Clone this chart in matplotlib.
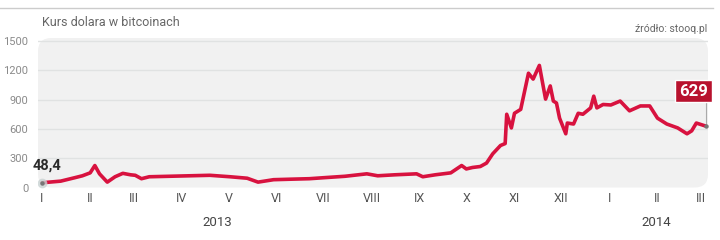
import matplotlib
matplotlib.use("Agg")
import matplotlib.pyplot as plt
from matplotlib.patches import FancyBboxPatch
import numpy as np

# Data: days since 1 Jan 2013, USD price of bitcoin
days = [0, 12, 21, 26, 31, 34, 37, 42, 47, 52, 57, 60, 64, 69, 82, 95, 108, 121,
        132, 139, 149, 160, 172, 181, 195, 209, 216, 227, 241, 245, 253, 263, 270,
        273, 277, 282, 286, 290, 295, 298, 299, 302, 304, 308, 313, 316, 320, 324,
        327, 329, 331, 333, 337, 338, 342, 345, 348, 353, 355, 357, 361, 366, 372,
        378, 385, 391, 396, 402, 409, 415, 418, 421, 427]
values = [48.4, 65, 100, 120, 150, 225, 140, 55, 110, 145, 130, 125, 90, 110, 115,
          120, 125, 110, 95, 55, 80, 85, 90, 100, 115, 140, 120, 130, 140, 110, 130,
          150, 225, 190, 205, 215, 250, 345, 430, 450, 750, 610, 760, 800, 1170,
          1110, 1250, 905, 1040, 885, 865, 710, 550, 660, 650, 760, 750, 815, 935,
          815, 850, 845, 885, 785, 835, 835, 710, 650, 610, 550, 580, 660, 629]

month_days = [0, 31, 59, 90, 120, 151, 181, 212, 243, 273, 304, 334, 365, 396, 424]
month_labels = ["I", "II", "III", "IV", "V", "VI", "VII", "VIII", "IX", "X", "XI",
                "XII", "I", "II", "III"]
y_ticks = [0, 300, 600, 900, 1200, 1500]
year_labels = [("2013", 113), ("2014", 395)]

W, H = 720, 240
fig = plt.figure(figsize=(7.2, 2.4), dpi=100)
fig.patch.set_facecolor("white")

px_per_day = (701 - 42) / 424.0
ax_left_px, ax_right_px = 38, 708
ax_top_px, ax_bot_px = 38, 187.5
ax = fig.add_axes([ax_left_px / W, 1 - ax_bot_px / H,
                   (ax_right_px - ax_left_px) / W, (ax_bot_px - ax_top_px) / H])
x0 = -(42 - ax_left_px) / px_per_day
x1 = (ax_right_px - 42) / px_per_day
ax.set_xlim(x0, x1)
ymax = 1500 * (ax_bot_px - ax_top_px) / (187.5 - 41)
ax.set_ylim(0, ymax)
ax.set_facecolor("none")
for s in ax.spines.values():
    s.set_visible(False)

panel = FancyBboxPatch((0, 0), 1, 1, boxstyle="round,pad=0,rounding_size=0.02",
                       transform=ax.transAxes, facecolor="#f1f1f1", edgecolor="none",
                       zorder=0, mutation_aspect=670 / 150)
ax.add_patch(panel)

for yv in y_ticks[1:]:
    ax.axhline(yv, color="#e0e2e2", lw=1.0, zorder=1)

ax.set_yticks(y_ticks)
ax.set_yticklabels([str(v) for v in y_ticks], fontsize=8, color="#8a8a8a",
                   family="Roboto")
ax.set_xticks(month_days)
ax.set_xticklabels(month_labels, fontsize=9, color="#555555", family="Roboto")
ax.tick_params(axis="y", length=0, pad=7)
ax.tick_params(axis="x", length=0, pad=3)

ax.plot(days, values, color="#d8123f", lw=2.6, solid_joinstyle="round",
        solid_capstyle="round", zorder=3, clip_on=False)

# start marker
ax.plot([days[0]], [values[0]], "o", ms=7, color="#c9d2d2", alpha=0.8, zorder=4,
        mec="none")
ax.plot([days[0]], [values[0]], "o", ms=2.2, color="#777777", zorder=5)
ax.text(days[0] - 6, values[0] + 100, "48,4", fontsize=10.5, fontweight="bold",
        color="#2b2b2b", family="Roboto", ha="left", va="bottom", zorder=6)

# end marker and label
ax.plot([days[-1]], [values[-1]], "o", ms=2.2, color="#777777", zorder=5,
        clip_on=False)
ax.plot([days[-1] + 0.5, days[-1] + 0.5], [values[-1], 900], color="#aaaaaa",
        lw=0.8, zorder=2, clip_on=False)
ax.text(days[-1] + 1.5, 985, "629", fontsize=12, fontweight="bold", color="white",
        family="Roboto", ha="right", va="center", zorder=7, clip_on=False,
        bbox=dict(boxstyle="square,pad=0.22", facecolor="#b8122e",
                  edgecolor="white", lw=1.0))

# title & source
fig.text(42 / W, 1 - 22 / H, "Kurs dolara w bitcoinach", fontsize=9,
         color="#666666", family="Roboto", ha="left", va="center")
fig.text(707 / W, 1 - 29 / H, "źródło: stooq.pl", fontsize=7.5,
         color="#666666", family="Roboto", ha="right", va="center")

# year labels
for lab, d in year_labels:
    xpx = 42 + d * px_per_day
    fig.text(xpx / W, 1 - 223 / H, lab, fontsize=9.5, color="#444444",
             family="Roboto", ha="center", va="center")

# top rule
fig.add_artist(plt.Line2D([0, 713 / W], [1 - 7.5 / H, 1 - 7.5 / H],
                          color="#cccccc", lw=1.0, transform=fig.transFigure))

fig.savefig("out.png", dpi=100, facecolor="white")
